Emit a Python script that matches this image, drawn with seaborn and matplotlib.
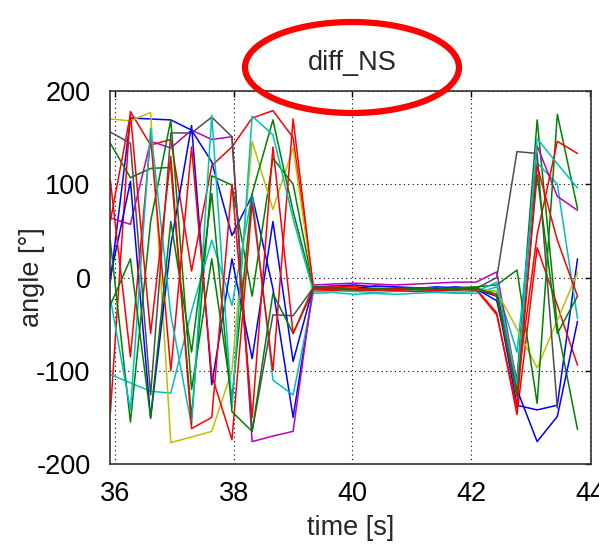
import numpy as np
import pandas as pd
import matplotlib
matplotlib.use("Agg")
import matplotlib.pyplot as plt
import seaborn as sns
from matplotlib.patches import Ellipse

# ---- data ----
time_s = [35.92, 36.26, 36.60, 36.94, 37.29, 37.63, 37.97, 38.31, 38.66, 39.00,
          39.34, 39.68, 40.03, 40.37, 40.71, 41.06, 41.40, 41.74, 42.08, 42.43,
          42.77, 43.11, 43.45, 43.79]

blue_1 = [-5, 171, 170, 169, 158, 124, 45, 88, -12, -150, -12, -9, -8, -10, -11, -12, -10, -11, -13, -20, -137, -142, -137, 20]
green_1 = [144, 107, 117, 118, -150, 109, 99, -20, 128, 100, -11, -12, -13, -12, -11, -13, -12, -12, -14, -15, -110, 169, -53, -163]
red_1 = [-147, 178, 142, 148, 7, 120, 140, 171, 179, 150, -10, -9, -10, -11, -12, -13, -11, -12, -12, -38, -147, 32, -30, -94]
cyan_1 = [-104, -113, -122, -124, -36, 40, -30, 90, -110, -126, -17, -16, -18, -17, -18, -17, -16, -17, -17, -10, -80, 123, 100, -44]
magenta_1 = [64, 57, 146, 139, 158, 148, 151, -176, -170, -165, -8, -7, -6, -7, -8, -7, -6, -5, -5, 6, -115, 141, 87, 72]
yellow_1 = [170, 168, 177, -177, -171, -165, -100, 146, 73, 139, -10, -11, -12, -11, -10, -12, -11, -11, -12, -15, -55, -97, -46, 5]
gray_1 = [156, 144, -126, 155, 155, 172, 151, -165, -40, -41, -11, -12, -12, -13, -12, -13, -13, -14, -12, 0, 135, 133, -140, np.nan]
blue_2 = [0, 103, -151, 35, 163, -115, 20, -87, 60, -90, -10, -11, -12, -9, -10, -11, -12, -10, -12, -25, -120, -176, -149, -47]
green_2 = [40, -155, 60, 169, -120, 20, -130, 90, 169, 71, -12, -13, -14, -13, -12, -12, -13, -11, -10, -8, 8, -135, 175, 74]
red_2 = [105, -85, 150, -100, 140, -105, -174, 80, -100, 170, -11, -12, -13, -14, -12, -11, -13, -12, -11, -20, -120, 46, 146, 133]
cyan_2 = [-22, -142, 160, -40, -159, 174, -140, 173, 153, 63, -15, -14, -15, -16, -15, -14, -15, -16, -15, -5, -115, 149, 122, 96]
green_3 = [-30, 20, -150, 60, -80, 90, -144, -165, -17, -60, -10, -11, -12, -12, -13, -12, -11, -12, -12, -18, -128, 110, -60, -20]
red_3 = [60, 175, -60, 130, -162, -150, 100, -150, 140, -60, -13, -14, -12, -13, -14, -15, -14, -13, -13, -40, -140, 120, 40, -20]

series_names = ["blue_1", "green_1", "red_1", "cyan_1", "magenta_1", "yellow_1", "gray_1",
                "blue_2", "green_2", "red_2", "cyan_2", "green_3", "red_3"]
series_values = [blue_1, green_1, red_1, cyan_1, magenta_1, yellow_1, gray_1,
                 blue_2, green_2, red_2, cyan_2, green_3, red_3]
series_colors = [(0, 0, 1), (0, 0.5, 0), (1, 0, 0), (0, 0.75, 0.75), (0.75, 0, 0.75),
                 (0.75, 0.75, 0), (0.3, 0.3, 0.3),
                 (0, 0, 1), (0, 0.5, 0), (1, 0, 0), (0, 0.75, 0.75), (0, 0.5, 0), (1, 0, 0)]

frames = []
for name, vals in zip(series_names, series_values):
    frames.append(pd.DataFrame({"time": time_s, "angle": vals, "series": name}))
df = pd.concat(frames, ignore_index=True)

sns.set_style("white")
plt.rcParams["font.family"] = ["Liberation Sans", "DejaVu Sans"]
plt.rcParams["axes.unicode_minus"] = False

fig = plt.figure(figsize=(5.99, 5.47), dpi=100)
ax = fig.add_axes([110 / 599, 1 - 464 / 547, (591 - 110) / 599, (464 - 91) / 547])

sns.lineplot(data=df, x="time", y="angle", hue="series", hue_order=series_names,
             palette=dict(zip(series_names, series_colors)), estimator=None,
             sort=False, linewidth=1.1, legend=False, ax=ax)

ax.set_xlim(35.916, 44.017)
ax.set_ylim(-200, 200)
ax.set_xticks([36, 38, 40, 42, 44])
ax.set_yticks([-200, -100, 0, 100, 200])
ax.grid(True, color="black", linestyle=(0, (1, 3)), linewidth=0.8)
ax.set_axisbelow(True)
ax.tick_params(direction="in", top=True, right=True, length=4, width=1,
               labelsize=19.5, colors="black")
ax.tick_params(axis="x", pad=12)
ax.tick_params(axis="y", pad=14)
for s in ax.spines.values():
    s.set_color("#333333")
    s.set_linewidth(1.2)

ax.set_xlabel("time [s]", fontsize=19.5, va="center", ha="center")
ax.set_ylabel("angle [°]", fontsize=19.5, va="center", ha="center")
ax.xaxis.set_label_coords(0.5, -(528 - 464) / 373)
ax.yaxis.set_label_coords(-(110 - 32) / 481, 0.5)

fig.text(352 / 599, 1 - 62.5 / 547, "diff_NS", fontsize=19.5, ha="center", va="center")

ell = Ellipse((352 / 599, 1 - 67.5 / 547), 214 / 599, 91 / 547,
              transform=fig.transFigure, fill=False, edgecolor=(1, 0, 0),
              linewidth=4.5, zorder=10, clip_on=False)
fig.patches.append(ell)

fig.savefig("out.png", dpi=100)
